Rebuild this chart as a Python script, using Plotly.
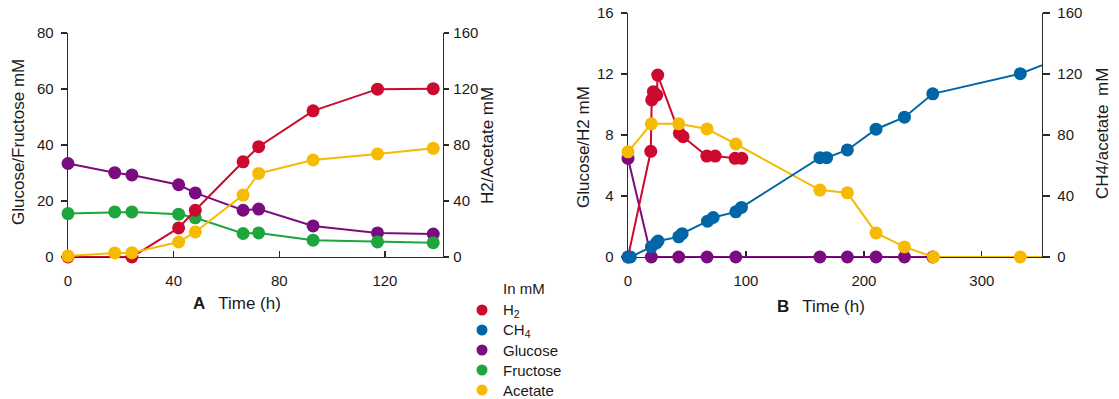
import plotly.graph_objects as go

FONT = "Liberation Sans Narrow, Arial Narrow, Liberation Sans, Arial, sans-serif"
TXT = "#1a1a1a"
AX = "#2a2a2a"
RED = "#CC0A2F"
BLUE = "#0066A6"
PURPLE = "#7B0C7F"
GREEN = "#1DA63B"
YELLOW = "#F6BA00"

# ---------------- Panel A data ----------------
a_time = [0, 17.7, 24.2, 41.9, 48.2, 66.3, 72.2, 92.8, 117.2, 138.3]
a_glucose = [33.4, 30.1, 29.3, 25.8, 22.9, 16.7, 17.1, 11.1, 8.6, 8.2]
a_fructose = [15.5, 16.1, 16.1, 15.3, 14.0, 8.4, 8.6, 6.0, 5.4, 5.1]
a_acetate = [0.8, 2.9, 3.1, 10.7, 17.9, 44.2, 59.7, 69.3, 73.6, 77.6]
a_time_h2 = [0, 24.2, 41.9, 48.2, 66.3, 72.2, 92.8, 117.2, 138.3]
a_h2 = [0, 0, 20.8, 33.4, 68.0, 78.8, 104.4, 119.9, 120.2]

# ---------------- Panel B data ----------------
b_time_h2 = [0, 19.3, 20.1, 21.5, 24.4, 25.2, 43.6, 46.7, 66.8, 73.9, 90.8, 96.5]
b_h2 = [0, 6.93, 10.3, 10.84, 10.62, 11.93, 8.11, 7.89, 6.62, 6.62, 6.47, 6.47]
b_time_ch4 = [0, 2, 19.8, 24.1, 25.5, 43.0, 45.9, 67.4, 72.2, 91.4, 96.2,
              162.7, 168.4, 186.0, 210.3, 234.4, 258.4, 332.6, 360]
b_ch4 = [0, 0, 6.6, 9.2, 10.5, 13.2, 15.3, 23.5, 25.9, 29.6, 32.5,
         65.1, 65.1, 70.2, 83.8, 91.7, 107.0, 120.2, 128.4]
b_time_glc = [0, 19.8, 43.0, 67.0, 91.4, 162.7, 186.0, 210.3, 234.4, 258.4]
b_glucose = [6.47, 0, 0, 0, 0, 0, 0, 0, 0, 0]
b_time_ac = [0, 19.8, 43.0, 67.0, 91.4, 162.7, 186.0, 210.3, 234.4, 259.0, 332.6, 360]
b_acetate = [69.0, 87.3, 87.3, 84.0, 74.1, 43.9, 42.1, 15.8, 6.6, 0, 0, 0]

legend_names = ["H<sub>2</sub>", "CH<sub>4</sub>", "Glucose", "Fructose", "Acetate"]
legend_colors = [RED, BLUE, PURPLE, GREEN, YELLOW]

W, H = 1119, 399
XMAX_A, XMAX_B = 142, 351
MS = 13


def px(x):
    return x / W


def py(y):
    return 1 - y / H


def sizes(times, xmax):
    # points beyond the visible time range carry only the line to the edge
    return [MS if t <= xmax else 0 for t in times]


def series(x, y, color, xa, ya, xmax):
    return go.Scatter(
        x=x, y=y, mode="lines+markers", xaxis=xa, yaxis=ya,
        line=dict(color=color, width=2),
        marker=dict(color=color, size=sizes(x, xmax), opacity=1, line=dict(width=0)),
        cliponaxis=False, showlegend=False, hoverinfo="skip",
    )


fig = go.Figure()
# Panel A: left axis traces first, right axis traces drawn on top
fig.add_trace(series(a_time, a_glucose, PURPLE, "x", "y", XMAX_A))
fig.add_trace(series(a_time, a_fructose, GREEN, "x", "y", XMAX_A))
fig.add_trace(series(a_time_h2, a_h2, RED, "x", "y2", XMAX_A))
fig.add_trace(series(a_time, a_acetate, YELLOW, "x", "y2", XMAX_A))
# Panel B
fig.add_trace(series(b_time_glc, b_glucose, PURPLE, "x2", "y4", XMAX_B))
fig.add_trace(series(b_time_h2, b_h2, RED, "x2", "y4", XMAX_B))
fig.add_trace(series(b_time_ac, b_acetate, YELLOW, "x2", "y5", XMAX_B))
fig.add_trace(series(b_time_ch4, b_ch4, BLUE, "x2", "y5", XMAX_B))

tickfont = dict(family=FONT, size=15, color=TXT)
common = dict(showline=True, linecolor=AX, linewidth=1.3, showgrid=False,
              zeroline=False, tickcolor=AX, tickwidth=1.2, tickfont=tickfont,
              layer="below traces", fixedrange=True, automargin=False)

dom_ax = [px(68), px(443)]
dom_ay = [py(257), py(33)]
dom_bx = [px(628), px(1042)]
dom_by = [py(257), py(13)]

fig.update_layout(
    width=W, height=H, margin=dict(l=0, r=0, t=0, b=0, pad=0), autosize=False,
    paper_bgcolor="white", plot_bgcolor="white", showlegend=False,
    font=dict(family=FONT, color=TXT),
    xaxis=dict(domain=dom_ax, anchor="y", range=[0, XMAX_A],
               tickvals=[0, 40, 80, 120], ticks="inside", ticklen=6,
               ticklabelstandoff=10, **common),
    yaxis=dict(domain=dom_ay, anchor="x", range=[0, 80], tickvals=[0, 20, 40, 60, 80],
               ticks="outside", ticklen=6, ticklabelstandoff=4, **common),
    yaxis2=dict(overlaying="y", anchor="x", side="right", range=[0, 160],
                tickvals=[0, 40, 80, 120, 160], ticks="outside", ticklen=5,
                ticklabelstandoff=1, **common),
    yaxis3=dict(overlaying="y", anchor="x", range=[0, 80], tickvals=[0, 20, 40, 60, 80],
                ticks="inside", ticklen=6, mirror="ticks", showticklabels=False,
                **common),
    xaxis2=dict(domain=dom_bx, anchor="y4", range=[0, XMAX_B],
                tickvals=[0, 100, 200, 300], ticks="inside", ticklen=6,
                ticklabelstandoff=10, **common),
    yaxis4=dict(domain=dom_by, anchor="x2", range=[0, 16], tickvals=[0, 4, 8, 12, 16],
                ticks="outside", ticklen=6, ticklabelstandoff=4, **common),
    yaxis5=dict(overlaying="y4", anchor="x2", side="right", range=[0, 160],
                tickvals=[0, 40, 80, 120, 160], ticks="outside", ticklen=7,
                ticklabelstandoff=4, **common),
    yaxis6=dict(overlaying="y4", anchor="x2", range=[0, 16], tickvals=[0, 4, 8, 12, 16],
                ticks="inside", ticklen=7, mirror="ticks", showticklabels=False,
                **common),
)

TF = dict(family=FONT, size=17, color=TXT)
ann = [
    dict(text="Glucose/Fructose mM", x=px(18), y=py(142), textangle=-90),
    dict(text="H2/Acetate mM", x=px(487), y=py(146), textangle=-90),
    dict(text="Glucose/H2 mM", x=px(583), y=py(147), textangle=-90),
    dict(text="CH4/acetate\u2002mM", x=px(1102), y=py(134), textangle=-90),
    dict(text="<b>A</b>\u2002 Time (h)", x=px(237), y=py(303)),
    dict(text="<b>B</b>\u2002 Time (h)", x=px(821), y=py(306)),
]
for a in ann:
    fig.add_annotation(xref="paper", yref="paper", showarrow=False,
                       xanchor="center", yanchor="middle", font=TF, **a)

# Legend block
LF = dict(family=FONT, size=15, color=TXT)
fig.add_annotation(text="In mM", xref="paper", yref="paper", x=px(501), y=py(288),
                   xanchor="left", yanchor="middle", showarrow=False, font=LF)
r = 5.5
for i, (name, col) in enumerate(zip(legend_names, legend_colors)):
    yc = 310 + 20 * i
    fig.add_shape(type="circle", xref="paper", yref="paper",
                  x0=px(482 - r), x1=px(482 + r), y0=py(yc + r), y1=py(yc - r),
                  fillcolor=col, line=dict(width=0))
    fig.add_annotation(text=name, xref="paper", yref="paper", x=px(501), y=py(yc),
                       xanchor="left", yanchor="middle", showarrow=False, font=LF)

fig.write_html("out.html",
               config={"displayModeBar": False, "staticPlot": True},
               post_script="document.body.style.margin='0';"
                           "document.body.style.overflow='hidden';")
